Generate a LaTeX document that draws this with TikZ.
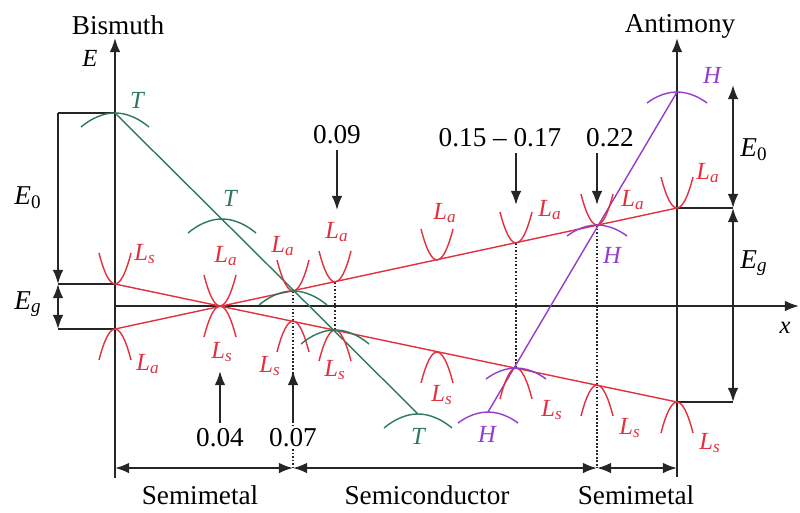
\documentclass[tikz,border=0pt]{standalone}
\usepackage{fontspec}
\setmainfont{LiberationSerif}[Extension=.ttf,UprightFont=*-Regular,ItalicFont=*-Italic,BoldFont=*-Bold,BoldItalicFont=*-BoldItalic]
\usetikzlibrary{arrows.meta}
\definecolor{bandred}{RGB}{226,48,62}
\definecolor{tgreen}{RGB}{45,120,95}
\definecolor{hviolet}{RGB}{150,60,205}
\newcommand{\Lsub}[1]{\textit{L}\textsubscript{\textit{#1}}}
\newcommand{\Esub}[1]{\textit{E}\textsubscript{#1}}
\begin{document}
\begin{tikzpicture}[x=0.02cm,y=-0.02cm,
  every node/.style={font=\fontsize{15.5}{18}\selectfont},
  ax/.style={line width=1pt,black!85},
  arr/.style={ax,-{Latex[length=8pt,width=6pt]}},
  darr/.style={ax,{Latex[length=8pt,width=6pt]}-{Latex[length=8pt,width=6pt]}},
  band/.style={line width=0.8pt,bandred},
  tline/.style={line width=0.8pt,tgreen},
  hline/.style={line width=0.8pt,hviolet},
  dots/.style={densely dotted,line width=1pt,black!85},
  lab/.style={font=\fontsize{14}{16}\selectfont\itshape},
  vcup/.pic={\draw[band] (-16,-31) parabola bend (0,0) (16,-31);},
  vcap/.pic={\draw[band] (-16,31) parabola bend (0,0) (16,31);},
  tarc/.pic={\draw[tline] (-34,14) parabola bend (0,0) (34,14);},
  harc/.pic={\draw[hline] (-30,11) parabola bend (0,0) (30,11);}]
  \useasboundingbox (0,0) rectangle (800,512);
  % axes
  \coordinate (bi-base) at (115,478); \coordinate (bi-top) at (115,38);
  \coordinate (sb-base) at (677,477); \coordinate (sb-top) at (677,38);
  \coordinate (x0) at (115,306); \coordinate (x1) at (799,306);
  \draw[arr] (bi-base) -- (bi-top);
  \draw[arr] (sb-base) -- (sb-top);
  \draw[arr] (x0) -- (x1);
  \node (bismuth) at (118,25) {Bismuth};
  \node (antimony) at (680,26) {Antimony};
  \node[lab] (eaxis) at (90,58) {E};
  \node[lab] (xaxis) at (785,328) {x};
  % band edges
  \coordinate (bi-s) at (115,284); \coordinate (bi-a) at (115,329);
  \coordinate (sb-a) at (677,208); \coordinate (sb-s) at (677,402);
  \coordinate (c04) at (220,306);
  \coordinate (a07) at (293,291); \coordinate (s07) at (293,321);
  \coordinate (a09) at (335,282); \coordinate (s09) at (335,330);
  \coordinate (a12) at (437,260); \coordinate (s12) at (437,352);
  \coordinate (a15) at (516,243); \coordinate (s15) at (516,368);
  \coordinate (a22) at (597,225); \coordinate (s22) at (597,385);
  \coordinate (t0) at (115,113); \coordinate (t1) at (222,219); \coordinate (t2) at (418,414);
  \coordinate (h0) at (677,92); \coordinate (h2) at (488,412);
  % E0, Eg left
  \coordinate (le0) at (58,113); \coordinate (le1) at (58,284); \coordinate (le2) at (58,329);
  \draw[ax] (t0) -- (le0);
  \draw[ax] (bi-s) -- (le1);
  \draw[ax] (bi-a) -- (le2);
  \draw[arr] (le0) -- (le1);
  \draw[darr] (le1) -- (le2);
  \node (e0-l) at (28,198) {\Esub{0}};
  \node (eg-l) at (28,304) {\Esub{\textit{g}}};
  % E0, Eg right
  \coordinate (re0) at (733,85); \coordinate (re1) at (733,208); \coordinate (re2) at (733,402);
  \draw[ax] (sb-a) -- (re1);
  \draw[ax] (sb-s) -- (re2);
  \draw[darr] (re1) -- (re0);
  \draw[darr] (re1) -- (re2);
  \node (e0-r) at (754,150) {\Esub{0}};
  \node (eg-r) at (754,263) {\Esub{\textit{g}}};
  % regions
  \coordinate (bl) at (115,468); \coordinate (bm1) at (293,468);
  \coordinate (bm2) at (597,468); \coordinate (br) at (677,468);
  \draw[dots] (a07) -- (bm1);
  \draw[dots] (a09) -- (s09);
  \draw[dots] (a15) -- (s15);
  \draw[dots] (a22) -- (bm2);
  \draw[darr] (bl) -- (bm1);
  \draw[darr] (bm1) -- (bm2);
  \draw[darr] (bm2) -- (br);
  \node (semimetal-l) at (200,495) {Semimetal};
  \node (semicond) at (427,495) {Semiconductor};
  \node (semimetal-r) at (636,495) {Semimetal};
  % bands
  \draw[band] (bi-s) -- (sb-s);
  \draw[band] (bi-a) -- (sb-a);
  \draw[tline] (t0) -- (t2);
  \draw[hline] (h0) -- (h2);
  \foreach \p in {bi-s,c04,a07,a09,a12,a15,a22,sb-a} \pic at (\p) {vcup};
  \foreach \p in {bi-a,c04,s07,s09,s12,s15,s22,sb-s} \pic at (\p) {vcap};
  \foreach \p in {t0,t1,t2,a07,s09} \pic at (\p) {tarc};
  \foreach \p in {h0,h2,s15,a22} \pic at (\p) {harc};
  % band labels
  \begin{scope}[every node/.append style={lab,bandred}]
    \node (ls-bi) at (145,254) {\Lsub{s}};
    \node (la-bi) at (148,364) {\Lsub{a}};
    \node (la04) at (226,256) {\Lsub{a}};
    \node (ls04) at (222,352) {\Lsub{s}};
    \node (la07) at (283,246) {\Lsub{a}};
    \node (ls07) at (270,366) {\Lsub{s}};
    \node (la09) at (337,232) {\Lsub{a}};
    \node (ls09) at (335,370) {\Lsub{s}};
    \node (la12) at (445,213) {\Lsub{a}};
    \node (ls12) at (442,395) {\Lsub{s}};
    \node (la15) at (550,210) {\Lsub{a}};
    \node (ls15) at (552,410) {\Lsub{s}};
    \node (la22) at (633,200) {\Lsub{a}};
    \node (ls22) at (630,428) {\Lsub{s}};
    \node (la-sb) at (708,173) {\Lsub{a}};
    \node (ls-sb) at (710,443) {\Lsub{s}};
  \end{scope}
  \node[lab,tgreen] (t-top) at (137,100) {T};
  \node[lab,tgreen] (t-mid) at (230,198) {T};
  \node[lab,tgreen] (t-bot) at (418,436) {T};
  \node[lab,hviolet] (h-top) at (712,75) {H};
  \node[lab,hviolet] (h-mid) at (612,255) {H};
  \node[lab,hviolet] (h-bot) at (487,434) {H};
  % compositions
  \coordinate (tip04) at (220,371); \coordinate (tip07) at (293,371);
  \coordinate (tip09) at (337,210); \coordinate (tip15) at (516,205);
  \coordinate (tip22) at (597,205);
  \node (n04) at (220,438) {0.04};
  \node[fill=white,inner sep=1pt] (n07) at (293,438) {0.07};
  \node (n09) at (337,135) {0.09};
  \node (n15) at (500,138) {0.15 -- 0.17};
  \node (n22) at (610,138) {0.22};
  \draw[arr] (n04) -- (tip04);
  \draw[arr] (n07.north) ++(0,-6) -- (tip07);
  \draw[arr] (n09) -- (tip09);
  \draw[arr] (n15.south -| tip15) -- (tip15);
  \draw[arr] (n22.south -| tip22) -- (tip22);
\end{tikzpicture}
\end{document}
